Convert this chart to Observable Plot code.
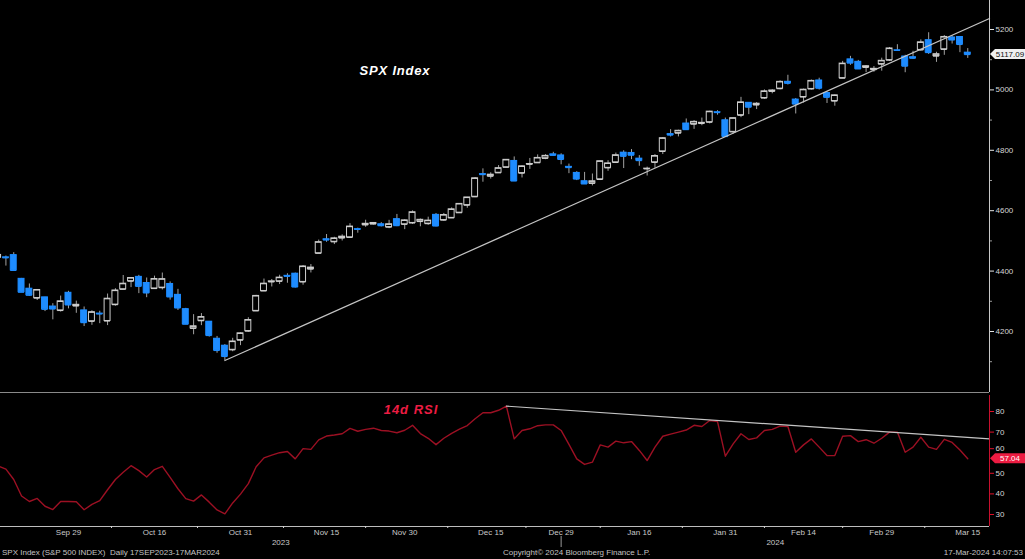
<!DOCTYPE html>
<html><head><meta charset="utf-8">
<script src="https://cdn.jsdelivr.net/npm/d3@7"></script>
<script src="https://cdn.jsdelivr.net/npm/@observablehq/plot@0.6"></script>
<style>
html,body{margin:0;padding:0;background:#000;width:1025px;height:559px;overflow:hidden;font-family:"Liberation Sans",Arial,sans-serif;}
#wrap{position:relative;width:1025px;height:559px;background:#000;}
#top{position:absolute;left:0;top:0;}
#rsi{position:absolute;left:0;top:393px;}
.foot{position:absolute;top:548px;font-size:8px;line-height:10px;color:#c4c4c4;white-space:nowrap;}
.ttl{position:absolute;font-weight:bold;font-style:italic;font-size:13px;line-height:14px;white-space:nowrap;transform:translate(-50%,-50%);}
</style></head><body><div id="wrap"><div id="top"></div><div id="rsi"></div></div>
<script>
// ---------- data ----------
const dates = ["2023-09-18","2023-09-19","2023-09-20","2023-09-21","2023-09-22","2023-09-25","2023-09-26","2023-09-27","2023-09-28","2023-09-29",
"2023-10-02","2023-10-03","2023-10-04","2023-10-05","2023-10-06","2023-10-09","2023-10-10","2023-10-11","2023-10-12","2023-10-13","2023-10-16","2023-10-17","2023-10-18","2023-10-19","2023-10-20","2023-10-23","2023-10-24","2023-10-25","2023-10-26","2023-10-27","2023-10-30","2023-10-31",
"2023-11-01","2023-11-02","2023-11-03","2023-11-06","2023-11-07","2023-11-08","2023-11-09","2023-11-10","2023-11-13","2023-11-14","2023-11-15","2023-11-16","2023-11-17","2023-11-20","2023-11-21","2023-11-22","2023-11-24","2023-11-27","2023-11-28","2023-11-29","2023-11-30",
"2023-12-01","2023-12-04","2023-12-05","2023-12-06","2023-12-07","2023-12-08","2023-12-11","2023-12-12","2023-12-13","2023-12-14","2023-12-15","2023-12-18","2023-12-19","2023-12-20","2023-12-21","2023-12-22","2023-12-26","2023-12-27","2023-12-28","2023-12-29",
"2024-01-02","2024-01-03","2024-01-04","2024-01-05","2024-01-08","2024-01-09","2024-01-10","2024-01-11","2024-01-12","2024-01-16","2024-01-17","2024-01-18","2024-01-19","2024-01-22","2024-01-23","2024-01-24","2024-01-25","2024-01-26","2024-01-29","2024-01-30","2024-01-31",
"2024-02-01","2024-02-02","2024-02-05","2024-02-06","2024-02-07","2024-02-08","2024-02-09","2024-02-12","2024-02-13","2024-02-14","2024-02-15","2024-02-16","2024-02-20","2024-02-21","2024-02-22","2024-02-23","2024-02-26","2024-02-27","2024-02-28","2024-02-29",
"2024-03-01","2024-03-04","2024-03-05","2024-03-06","2024-03-07","2024-03-08","2024-03-11","2024-03-12","2024-03-13","2024-03-14","2024-03-15"];

const open = [4445.13,4445.41,4452.81,4374.36,4341.74,4310.62,4312.88,4282.63,4269.65,4328.18,
4284.52,4269.75,4233.83,4259.31,4234.79,4289.02,4339.75,4366.59,4380.94,4360.49,4342.37,4345.23,4357.35,4321.36,4273.85,4210.40,4235.79,4232.42,4175.99,4152.93,4139.39,4171.33,
4201.27,4268.26,4334.23,4364.27,4366.21,4384.37,4391.41,4364.15,4406.66,4458.97,4505.30,4497.08,4509.55,4511.70,4538.77,4553.04,4555.84,4554.86,4545.55,4571.84,4554.87,
4559.43,4564.37,4557.25,4586.23,4568.84,4576.20,4593.39,4618.30,4646.20,4721.04,4714.23,4725.58,4743.72,4764.73,4724.29,4753.92,4758.86,4773.45,4786.44,4782.88,
4745.20,4725.07,4697.42,4690.57,4703.70,4741.93,4759.94,4792.13,4791.18,4772.35,4739.13,4760.10,4796.28,4853.42,4856.80,4888.56,4886.66,4888.91,4892.95,4925.89,4899.19,
4861.11,4916.06,4957.19,4950.16,4973.05,4995.16,5004.17,5026.83,4967.94,4976.44,5003.14,5031.13,4989.32,4963.03,5038.83,5100.92,5093.00,5074.60,5067.20,5085.36,
5098.51,5130.99,5110.52,5108.03,5132.38,5164.46,5111.96,5134.30,5173.49,5175.14,5123.31];

const high = [4466.36,4449.85,4461.03,4375.70,4357.40,4338.51,4313.01,4292.07,4317.27,4333.15,
4300.58,4281.15,4268.50,4267.13,4324.10,4341.73,4385.46,4378.64,4385.85,4377.10,4383.33,4393.57,4364.20,4339.54,4276.56,4255.84,4259.38,4232.42,4183.60,4156.70,4177.47,4195.55,
4245.64,4319.72,4373.62,4372.21,4386.26,4391.20,4393.40,4418.03,4421.76,4502.73,4521.17,4511.99,4520.12,4557.11,4542.14,4568.43,4560.31,4560.52,4568.14,4587.64,4569.89,
4599.39,4572.37,4578.56,4590.74,4590.92,4609.23,4623.18,4643.93,4709.69,4738.57,4725.53,4749.52,4768.69,4778.01,4748.71,4772.94,4784.72,4785.39,4793.30,4788.43,
4754.33,4729.29,4726.78,4721.49,4764.54,4765.47,4790.80,4798.50,4802.40,4782.34,4744.23,4785.79,4842.07,4868.41,4866.48,4903.68,4898.15,4906.69,4929.31,4931.09,4906.75,
4906.97,4975.29,4957.19,4957.77,4999.89,5000.40,5030.06,5048.39,4971.30,5002.52,5032.72,5038.70,4993.71,4983.21,5094.39,5111.06,5097.66,5080.69,5077.37,5104.99,
5140.33,5149.67,5114.54,5127.97,5165.62,5189.26,5124.66,5179.87,5179.14,5176.85,5136.86];

const low = [4442.11,4416.61,4401.38,4329.17,4316.49,4302.70,4265.98,4238.63,4264.38,4274.86,
4260.21,4216.45,4220.48,4225.91,4219.55,4283.79,4339.64,4345.34,4325.43,4311.97,4342.37,4337.54,4303.84,4269.69,4223.03,4189.22,4219.43,4181.42,4127.90,4103.78,4132.94,4153.12,
4197.74,4268.26,4334.23,4347.53,4355.41,4359.76,4343.94,4353.34,4393.82,4458.97,4495.31,4487.83,4499.66,4510.36,4525.51,4545.05,4552.80,4546.32,4540.51,4547.15,4537.24,
4554.71,4546.72,4551.68,4546.50,4565.22,4574.06,4593.39,4608.09,4643.23,4694.34,4704.69,4725.58,4743.72,4697.82,4708.35,4736.77,4758.45,4768.90,4780.98,4751.99,
4722.67,4699.71,4687.53,4682.11,4699.82,4730.35,4756.20,4739.58,4768.98,4747.12,4714.82,4740.57,4785.87,4844.05,4844.37,4865.94,4869.34,4881.47,4887.40,4916.27,4845.15,
4853.52,4907.99,4918.09,4934.88,4969.05,4987.09,5000.34,5016.18,4920.31,4956.45,4999.44,4999.52,4955.02,4946.00,5038.83,5081.46,5068.91,5057.29,5058.35,5061.89,
5094.16,5127.18,5056.82,5101.22,5128.21,5117.50,5091.14,5114.48,5151.88,5123.30,5104.35];

const close = [4453.53,4443.95,4402.20,4330.00,4320.06,4337.44,4273.53,4274.51,4299.70,4288.05,
4288.39,4229.45,4263.75,4258.19,4308.50,4335.66,4358.24,4376.95,4349.61,4327.78,4373.63,4373.20,4314.60,4278.00,4224.16,4217.04,4247.68,4186.77,4137.23,4117.37,4166.82,4193.80,
4237.86,4317.78,4358.34,4365.98,4378.38,4382.78,4347.35,4415.24,4411.55,4495.70,4502.88,4508.24,4514.02,4547.38,4538.19,4556.62,4559.34,4550.43,4554.89,4550.58,4567.80,
4594.63,4569.78,4567.18,4549.34,4585.59,4604.37,4622.44,4643.70,4707.09,4719.55,4719.19,4740.56,4768.37,4698.35,4746.75,4754.63,4774.75,4781.58,4783.35,4769.83,
4742.83,4704.81,4688.68,4697.24,4763.54,4756.50,4783.45,4780.24,4783.83,4765.98,4739.21,4780.94,4839.81,4850.43,4864.60,4868.55,4894.16,4890.97,4927.93,4924.97,4845.65,
4906.19,4958.61,4942.81,4954.23,4995.06,4997.91,5026.61,5021.84,4953.17,5000.62,5029.73,5005.57,4975.51,4981.80,5087.03,5088.80,5069.53,5078.18,5069.76,5096.27,
5137.08,5130.95,5078.65,5104.76,5157.36,5123.69,5117.94,5175.27,5165.31,5150.48,5117.09];

const rsi = [53.5,52,47,39,36.3,37.8,34,32.4,36.3,36.3,
36.2,32.3,34.9,36.7,42,47,50.5,53.7,51.3,48.2,
51.8,53.4,48,42.5,37.7,36.5,39.5,36,32.2,30.3,
35.6,39.9,45,53.2,57.5,58.8,60,60.6,57,62,
61.6,66.2,68.1,68.6,69.2,71.8,70.4,71.3,71.9,70.8,
70.5,69.7,70.9,73.3,69.3,67,63.9,67,69.4,71.4,
73.2,76.5,79.4,79.4,80.6,82.6,66.7,70.8,71.6,73.1,
73.5,73.5,70.8,64,57,54.3,55.4,63.8,62.7,65.6,
64.8,65.4,61.1,56.2,62.7,68,69,70,71,73.3,
72.7,75.6,75.1,58.3,64.3,69.2,66.4,67.2,70.8,71.3,
72.9,72.7,60.2,63.8,66.7,62.7,58.6,58.6,68,68.3,
65.4,66.3,64.6,67,70,70,60.2,62.7,67.5,62.7,
61.6,66.5,65,61.3,57.04];

const tickLabelDates = ["2023-09-29","2023-10-16","2023-10-31","2023-11-15","2023-11-30","2023-12-15","2023-12-29","2024-01-16","2024-01-31","2024-02-14","2024-02-29","2024-03-15"];
const priceTicks = [4200,4400,4600,4800,5000,5200];
const priceMinorTicks = [4100,4300,4500,4700,4900,5100];
const rsiTicks = [30,40,50,70,80];
const rsiTickNearLabel = [60];
const priceTrendAnchors = ["2023-10-27","2024-01-31"]; // lows joined by trendline
const rsiTrendAnchors = ["2023-12-19","2024-03-01"];   // RSI peaks joined by trendline

// ---------- build ----------
const FONT = "'Liberation Sans', Arial, sans-serif";
const BLUE = "#1e8cff", HOLLOW = "#cfcfcf", WICK = "#a2a2a2", AXIS = "#c8c8c8";
const RSI_RED = "#9c1023", LABEL_RED = "#ec1c42";
const xDomain = [0.307, 126.78];
const hw = 0.38;
const parse = d3.utcParse("%Y-%m-%d");
const fmt = d3.utcFormat("%b %d");

const candles = dates.map((d, i) => ({i, o: open[i], h: high[i], l: low[i], c: close[i], down: close[i] < open[i]}));
const col = d => d.down ? BLUE : HOLLOW;

const pa = candles[dates.indexOf(priceTrendAnchors[0])], pb = candles[dates.indexOf(priceTrendAnchors[1])];
const pSlope = (pb.l - pa.l) / (pb.i - pa.i);
const priceTrend = [{x: pa.i, y: pa.l}, {x: xDomain[1], y: pa.l + pSlope * (xDomain[1] - pa.i)}];

const rsiData = dates.map((d, i) => ({i, v: rsi[i]}));
const ra = rsiData[dates.indexOf(rsiTrendAnchors[0])], rb = rsiData[dates.indexOf(rsiTrendAnchors[1])];
const rSlope = (rb.v - ra.v) / (rb.i - ra.i);
const rsiTrend = [{x: ra.i, y: ra.v}, {x: xDomain[1], y: ra.v + rSlope * (xDomain[1] - ra.i)}];

const yPrice = [3998, 5296];
const topChart = Plot.plot({
  width: 1025, height: 393, marginLeft: 0, marginRight: 36, marginTop: 0, marginBottom: 1,
  style: {background: "#000", color: AXIS, fontFamily: FONT, fontSize: "8px", overflow: "visible"},
  x: {domain: xDomain, axis: null},
  y: {domain: yPrice, axis: null},
  marks: [
    Plot.ruleY([yPrice[0]], {stroke: "#8a8a8a", strokeWidth: 1}),
    Plot.ruleX(candles, {x: "i", y1: "l", y2: "h", stroke: WICK, strokeWidth: 1, clip: true}),
    Plot.rect(candles, {x1: d => d.i - hw, x2: d => d.i + hw, y1: "o", y2: "c", fill: d => d.down ? BLUE : "#000", stroke: col, strokeWidth: 1, clip: true}),
    Plot.ruleY(candles, {y: "o", x1: d => d.i - hw, x2: d => d.i + hw, stroke: col, strokeWidth: 1.2, clip: true}),
    Plot.ruleY(candles, {y: "c", x1: d => d.i - hw, x2: d => d.i + hw, stroke: col, strokeWidth: 1.2, clip: true}),
    Plot.line(priceTrend, {x: "x", y: "y", stroke: "#c4c4c4", strokeWidth: 1.2}),
    Plot.ruleX([xDomain[1]], {stroke: AXIS, strokeWidth: 1}),
    Plot.axisY({anchor: "right", ticks: priceTicks, tickSize: 4, tickPadding: 2, tickFormat: d => String(d), stroke: "#e6e6e6", fill: "#d6d6d6", fontSize: 8}),
    Plot.axisY({anchor: "right", ticks: priceMinorTicks, tickSize: 2, tickFormat: () => "", stroke: "#9a9a9a"})
  ]
});
document.getElementById("top").appendChild(topChart);

const yRsi = [24.17, 87.77];
const last2023 = dates.filter(d => d.startsWith("2023")).length - 1;
const labelIdx = tickLabelDates.map(d => dates.indexOf(d));
const minorIdx = labelIdx.slice(1).map((v, k) => (v + labelIdx[k]) / 2);
const yearMid = [(xDomain[0] + last2023) / 2, (last2023 + xDomain[1]) / 2];
const yearText = ["2023", "2024"];

const rsiChart = Plot.plot({
  width: 1025, height: 166, marginLeft: 0, marginRight: 36, marginTop: 2, marginBottom: 33,
  style: {background: "#000", color: AXIS, fontFamily: FONT, fontSize: "8px", overflow: "visible"},
  x: {domain: xDomain, axis: null},
  y: {domain: yRsi, axis: null},
  marks: [
    Plot.ruleY([yRsi[0]], {stroke: "#bdbdbd", strokeWidth: 1}),
    Plot.line(rsiData, {x: "i", y: "v", stroke: RSI_RED, strokeWidth: 1.4, clip: true}),
    Plot.line(rsiTrend, {x: "x", y: "y", stroke: "#c4c4c4", strokeWidth: 1.2}),
    Plot.ruleX([xDomain[1]], {stroke: "#c8102e", strokeWidth: 1}),
    Plot.axisY({anchor: "right", ticks: rsiTicks, tickSize: 4, tickPadding: 2, tickFormat: d => String(d), stroke: "#e0102a", fill: "#d6d6d6", fontSize: 8}),
    Plot.axisY({anchor: "right", ticks: rsiTickNearLabel, tickSize: 4, tickPadding: 2, tickFormat: d => String(d), stroke: "#e0102a", fill: "#d6d6d6", fontSize: 8, dy: -4}),
    Plot.axisX({ticks: labelIdx, tickSize: 0, tickPadding: 3, tickFormat: i => fmt(parse(dates[i])), fill: "#c8c8c8", fontSize: 8}),
    Plot.axisX({ticks: minorIdx, tickSize: 2, tickFormat: () => "", stroke: "#d0d0d0"}),
    Plot.axisX({ticks: yearMid, tickSize: 0, tickPadding: 13, tickFormat: (d, k) => yearText[k], fill: "#c8c8c8", fontSize: 8}),
    Plot.axisX({ticks: [last2023], tickSize: 11, dy: 10, tickFormat: () => "", stroke: "#9a9a9a"})
  ]
});
document.getElementById("rsi").appendChild(rsiChart);

// last-value labels on the right axes
function valueBox(chart, v, text, bg, fg) {
  const cy = chart.scale("y").apply(v);
  const x0 = chart.scale("x").apply(xDomain[1]);
  const g = d3.select(chart).append("g");
  g.append("path").attr("d", `M${x0 + 1},${cy} L${x0 + 6},${cy - 5} L1025,${cy - 5} L1025,${cy + 5} L${x0 + 6},${cy + 5} Z`).attr("fill", bg);
  g.append("text").attr("x", x0 + 21).attr("y", cy).attr("dy", "0.35em").attr("text-anchor", "middle")
    .attr("fill", fg).attr("font-size", 8).attr("font-family", FONT).text(text);
}
valueBox(topChart, close[close.length - 1], close[close.length - 1].toFixed(2), "#f0f0f0", "#111");
valueBox(rsiChart, rsi[rsi.length - 1], rsi[rsi.length - 1].toFixed(2), LABEL_RED, "#fff");

// titles & footer
const wrap = document.getElementById("wrap");
function addDiv(cls, text, css) { const el = document.createElement("div"); el.className = cls; el.textContent = text; Object.assign(el.style, css); wrap.appendChild(el); }
addDiv("ttl", "SPX Index", {left: "395px", top: "71px", color: "#ffffff", letterSpacing: "0.8px"});
addDiv("ttl", "14d RSI", {left: "411px", top: "410px", color: LABEL_RED, letterSpacing: "1px"});
addDiv("foot", "SPX Index (S&P 500 INDEX)  Daily 17SEP2023-17MAR2024", {left: "2px", whiteSpace: "pre"});
addDiv("foot", "Copyright\u00a9 2024 Bloomberg Finance L.P.", {left: "503px"});
addDiv("foot", "17-Mar-2024 14:07:53", {right: "2px"});
</script>
</body></html>
